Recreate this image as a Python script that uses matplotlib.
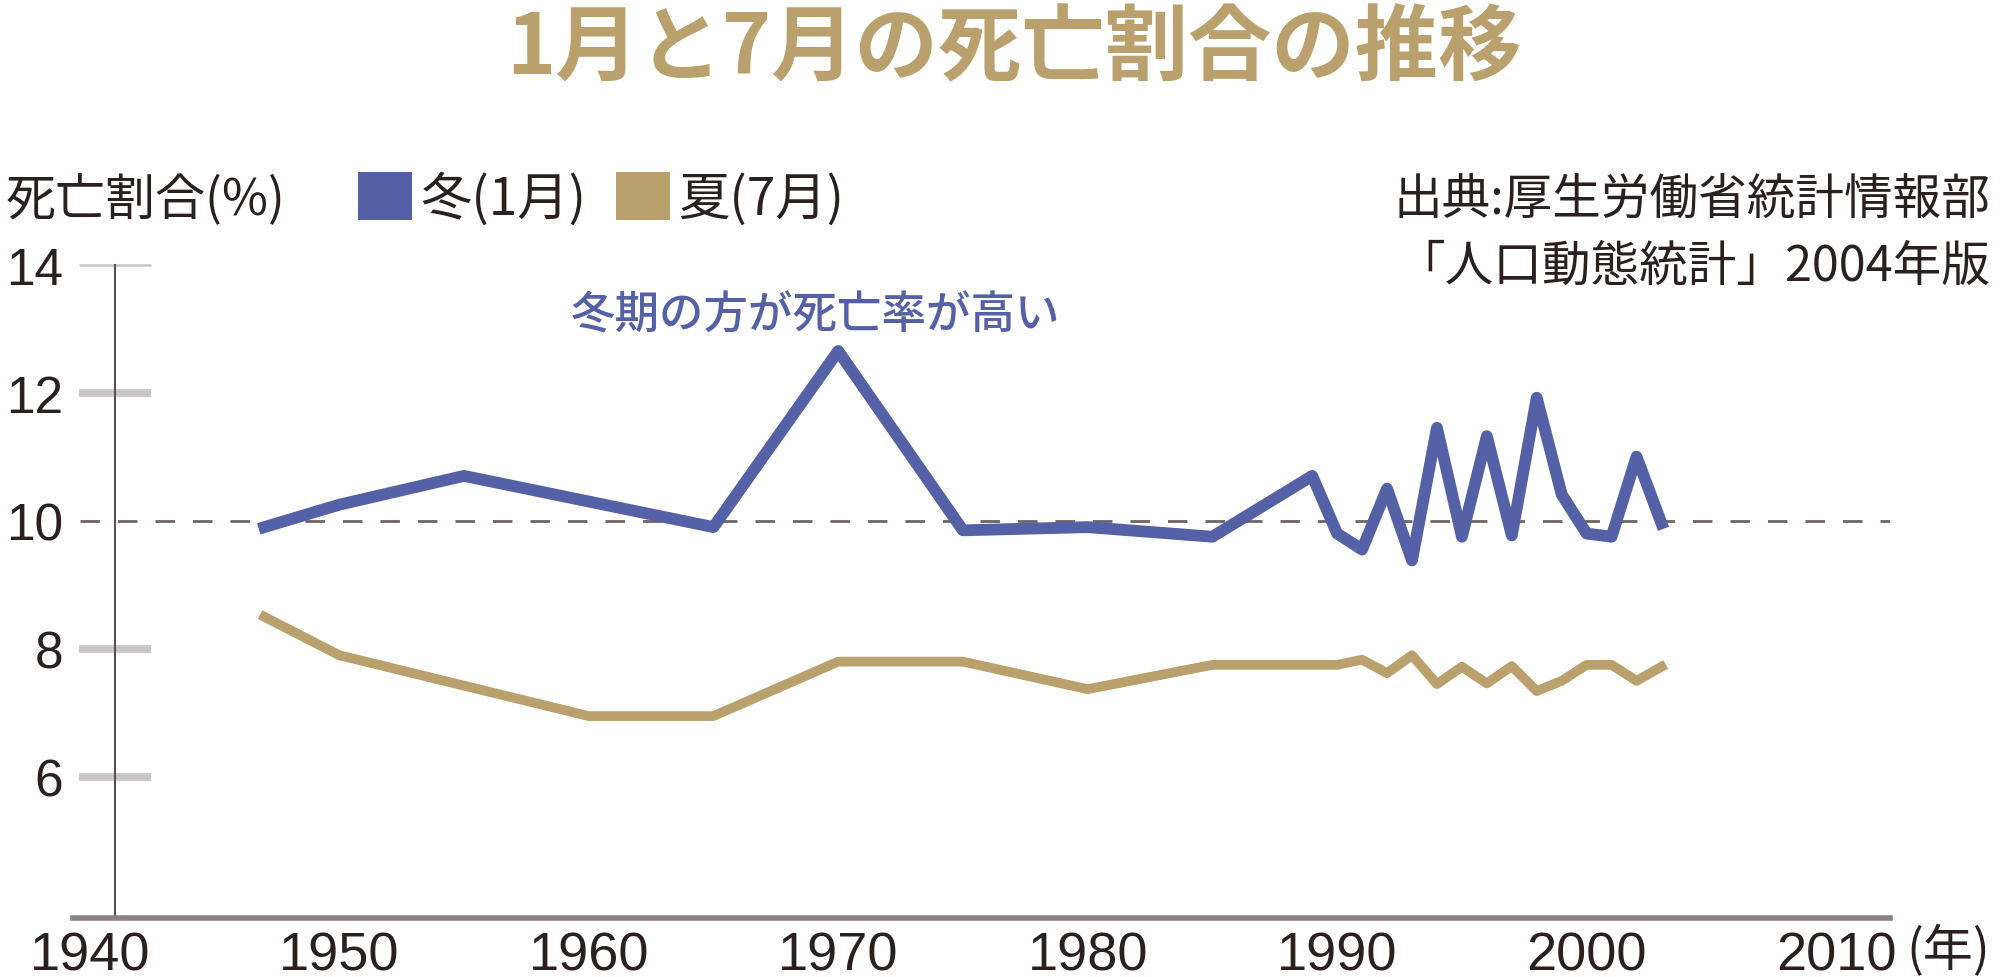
import matplotlib
matplotlib.use("Agg")
import matplotlib.pyplot as plt
from matplotlib.patches import Patch

plt.rcParams['font.family'] = ['Noto Sans CJK JP', 'DejaVu Sans']

# data
years_winter = [1947, 1950, 1955, 1965, 1970, 1975, 1980, 1985,
                1989, 1990, 1991, 1992, 1993, 1994, 1995, 1996,
                1997, 1998, 1999, 2000, 2001, 2002, 2003]
winter = [9.9, 10.25, 10.7, 9.9, 12.65, 9.85, 9.9, 9.75,
          10.7, 9.8, 9.55, 10.5, 9.38, 11.45, 9.75, 11.32,
          9.77, 11.92, 10.41, 9.8, 9.75, 11.0, 9.96]

years_summer = [1947, 1950, 1960, 1965, 1970, 1975, 1980, 1985,
                1989, 1990, 1991, 1992, 1993, 1994, 1995, 1996,
                1997, 1998, 1999, 2000, 2001, 2002, 2003]
summer = [8.5, 7.9, 6.95, 6.95, 7.8, 7.8, 7.37, 7.75,
          7.75, 7.75, 7.83, 7.62, 7.9, 7.45, 7.72, 7.46,
          7.73, 7.34, 7.5, 7.75, 7.75, 7.5, 7.72]

xticks = [1940, 1950, 1960, 1970, 1980, 1990, 2000, 2010]
yticks = [6, 8, 10, 12, 14]

blue = '#5561a6'
tan = '#b9a06c'
dark = '#2a2020'

fig = plt.figure(figsize=(20, 9.78), dpi=100)
ax = fig.add_axes([0.0365, 0.0605, 0.9085, 0.668])

ax.axhline(10, xmin=0.004, color='#6e6464', lw=2, dashes=(7, 6.5), zorder=1)
ax.plot(years_winter, winter, color=blue, lw=8.5, solid_joinstyle='round', zorder=3)
ax.plot(years_summer, summer, color=tan, lw=7, solid_joinstyle='round', zorder=2)

ax.set_xlim(1939.33, 2012.16)
ax.set_ylim(3.8, 14)

for s in ['top', 'right']:
    ax.spines[s].set_visible(False)
ax.spines['left'].set_position(('data', 1941))
ax.spines['left'].set_bounds(3.8, 14)
ax.spines['left'].set_color('#5a5050')
ax.spines['left'].set_linewidth(1.5)
ax.spines['bottom'].set_color('#8a8282')
ax.spines['bottom'].set_linewidth(4)

ax.set_yticks(yticks)
ax.set_yticklabels([str(v) for v in yticks], family=['Liberation Sans', 'DejaVu Sans'],
                   fontsize=37, color=dark)
ax.tick_params(axis='y', direction='inout', length=52, width=5.5, color='#cbc6c6', pad=11)
for t, v in zip(ax.yaxis.get_major_ticks(), yticks):
    if v == 14:
        t.tick1line.set_color('#4a4040')
        t.tick1line.set_markeredgewidth(1.8)
    if v == 10:
        t.tick1line.set_visible(False)

ax.set_xticks(xticks)
ax.set_xticklabels([str(v) for v in xticks],
                   family=['Liberation Sans Narrow', 'Liberation Sans'],
                   fontsize=39, color=dark)
ax.tick_params(axis='x', length=0, pad=9)

fig.text(0.507, 0.950, '1月と7月の死亡割合の推移', ha='center', va='center',
         fontsize=60, fontweight='bold', color=tan)
fig.text(0.003, 0.7945, '死亡割合(%)', ha='left', va='center', fontsize=36, color=dark)
fig.text(0.995, 0.7945, '出典:厚生労働省統計情報部', ha='right', va='center',
         fontsize=35, color=dark)
fig.text(0.995, 0.727, '「人口動態統計」2004年版', ha='right', va='center',
         fontsize=35, color=dark)
fig.text(0.995, 0.0265, '(年)', ha='right', va='center', fontsize=36, color=dark)
ax.text(1969.1, 13.22, '冬期の方が死亡率が高い', ha='center', va='center',
        fontsize=32, fontweight='medium', color=blue)

handles = [Patch(facecolor=blue, edgecolor='none'),
           Patch(facecolor=tan, edgecolor='none')]
fig.legend(handles, ['冬(1月)', '夏(7月)'], loc='center left',
           bbox_to_anchor=(0.179, 0.7955), ncol=2, frameon=False,
           fontsize=37, handlelength=1.05, handleheight=1.05,
           handletextpad=0.16, columnspacing=0.58, borderpad=0, borderaxespad=0,
           labelcolor=dark)

fig.savefig('out.png', dpi=100, facecolor='white')
